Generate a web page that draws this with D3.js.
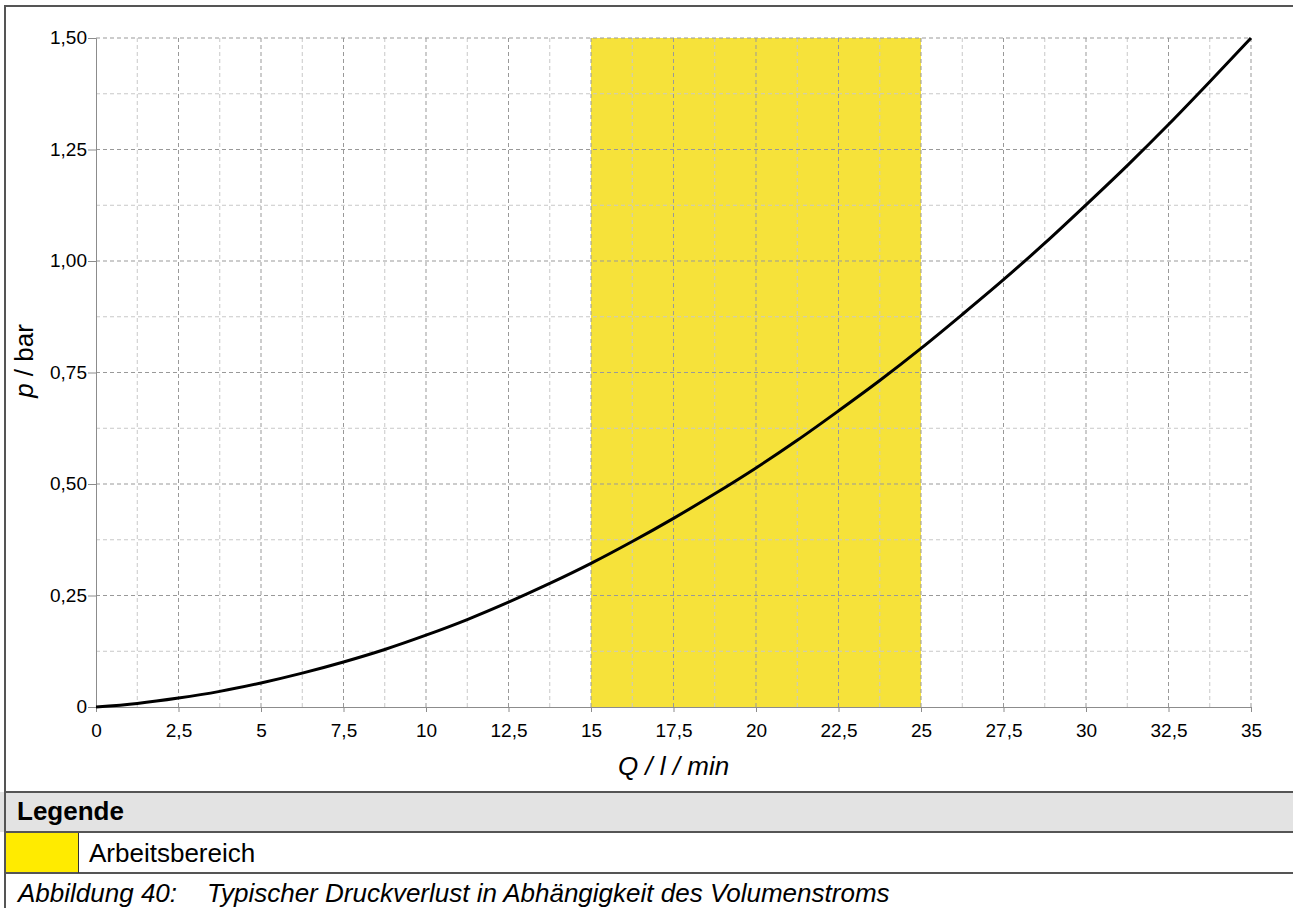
<!DOCTYPE html>
<html>
<head>
<meta charset="utf-8">
<style>
body { margin:0; background:#fff; }
svg text { font-family: "Liberation Sans", Arial, sans-serif; fill:#000; }
</style>
</head>
<body>
<div id="chart"></div>
<script src="https://cdn.jsdelivr.net/npm/d3@7"></script>
<script>

// data
var flowQ = [0,1.25,2.5,3.75,5,6.25,7.5,8.75,10,11.25,12.5,13.75,15,16.25,17.5,18.75,20,
             21.25,22.5,23.75,25,26.25,27.5,28.75,30,31.25,32.5,33.75,35]
var pressure = [0,0.008,0.020,0.035,0.054,0.076,0.101,0.129,0.161,0.196,0.235,0.277,0.322,0.371,
                0.423,0.478,0.536,0.598,0.664,0.732,0.804,0.880,0.958,1.040,1.126,1.214,1.306,1.402,1.50]
var workRange = [15, 25]
var xTicks = [0,2.5,5,7.5,10,12.5,15,17.5,20,22.5,25,27.5,30,32.5,35]
var yTicks = [0,0.25,0.5,0.75,1,1.25,1.5]
var legendLabel = "Arbeitsbereich"
var captionNum = "Abbildung 40:"
var captionText = "Typischer Druckverlust in Abhängigkeit des Volumenstroms"

var W = 1293, H = 908
var margin = {top:38, left:96, right:42, bottom:201}

var svg = d3.select("#chart").append("svg")
    .attr("width", W).attr("height", H)

var x = d3.scaleLinear().domain([0, 35]).range([margin.left, W - margin.right])
var y = d3.scaleLinear().domain([0, 1.5]).range([H - margin.bottom, margin.top])

var fmtX = function(d){ return String(d).replace(".", ",") }
var fmtY = function(d){ return d == 0 ? "0" : d3.format(".2f")(d).replace(".", ",") }

// working range
svg.append("rect")
    .attr("x", x(workRange[0])).attr("y", y(1.5))
    .attr("width", x(workRange[1]) - x(workRange[0]))
    .attr("height", y(0) - y(1.5))
    .style("fill", "#f6e23a")

// grid: minor lines
var minorX = d3.range(1, 28).map(function(i){ return i * 1.25 }).filter(function(d){ return d % 2.5 != 0 })
var minorY = d3.range(1, 12).map(function(i){ return i * 0.125 }).filter(function(d){ return Math.abs(d / 0.25 - Math.round(d / 0.25)) > 0.01 })

svg.append("g").selectAll("line").data(minorX).enter().append("line")
    .attr("x1", d=>x(d)).attr("x2", d=>x(d)).attr("y1", y(0)).attr("y2", y(1.5))
    .style("stroke", "#c8c8c8").style("stroke-dasharray", "4,3")
svg.append("g").selectAll("line").data(minorY).enter().append("line")
    .attr("y1", d=>y(d)).attr("y2", d=>y(d)).attr("x1", x(0)).attr("x2", x(35))
    .style("stroke", "#c8c8c8").style("stroke-dasharray", "4,3")

// grid: major lines
svg.append("g").selectAll("line").data(xTicks.slice(1)).enter().append("line")
    .attr("x1", d=>x(d)).attr("x2", d=>x(d)).attr("y1", y(0)).attr("y2", y(1.5))
    .style("stroke", "#999").style("stroke-dasharray", "4,3")
svg.append("g").selectAll("line").data(yTicks.slice(1)).enter().append("line")
    .attr("y1", d=>y(d)).attr("y2", d=>y(d)).attr("x1", x(0)).attr("x2", x(35))
    .style("stroke", "#999").style("stroke-dasharray", "4,3")

// axes
var xAxis = svg.append("g").attr("transform", "translate(0," + y(0) + ")")
    .call(d3.axisBottom(x).tickValues(xTicks).tickFormat(fmtX).tickSize(5).tickPadding(12))
var yAxis = svg.append("g").attr("transform", "translate(" + x(0) + ",0)")
    .call(d3.axisLeft(y).tickValues(yTicks).tickFormat(fmtY).tickSize(8).tickPadding(1))
;[xAxis, yAxis].forEach(function(a){
    a.select(".domain").style("stroke", "#8c8c8c")
    a.selectAll(".tick line").style("stroke", "#8c8c8c")
    a.selectAll("text").style("font-size", "19px").style("font-family", "Liberation Sans, Arial, sans-serif")
})
xAxis.selectAll(".tick text").attr("dy", "0.7em")
yAxis.selectAll(".tick text").attr("dy", "0.3em")

// curve
var line = d3.line().x((d,i)=>x(flowQ[i])).y(d=>y(d)).curve(d3.curveMonotoneX)
svg.append("path").datum(pressure)
    .attr("d", line)
    .style("fill", "none").style("stroke", "#000").style("stroke-width", 3)

// axis titles
svg.append("text")
    .attr("x", (x(0) + x(35)) / 2).attr("y", 775)
    .attr("text-anchor", "middle")
    .style("font-size", "26px").style("font-style", "italic")
    .text("Q / l / min")

var yt = svg.append("text")
    .attr("transform", "translate(33,361) rotate(-90)")
    .attr("text-anchor", "middle")
    .style("font-size", "26px")
yt.append("tspan").style("font-style", "italic").text("p")
yt.append("tspan").text(" / bar")

// frame + legend table
var border = "#555"
svg.append("rect").attr("x", 0).attr("y", 792).attr("width", W).attr("height", 40).style("fill", "#e3e3e3")
svg.append("rect").attr("x", 6).attr("y", 833).attr("width", 72).attr("height", 40).style("fill", "#ffeb00")

var hLines = [6, 792, 832, 873]
svg.append("g").selectAll("line").data(hLines).enter().append("line")
    .attr("x1", 4).attr("x2", W).attr("y1", d=>d).attr("y2", d=>d)
    .style("stroke", border).style("stroke-width", 2)
svg.append("line").attr("x1", 5).attr("x2", 5).attr("y1", 5).attr("y2", H)
    .style("stroke", border).style("stroke-width", 2)
svg.append("line").attr("x1", 78.5).attr("x2", 78.5).attr("y1", 833).attr("y2", 873)
    .style("stroke", "#333").style("stroke-width", 1)

svg.append("text").attr("x", 17).attr("y", 820)
    .style("font-size", "26px").style("font-weight", "bold").text("Legende")
svg.append("text").attr("x", 89).attr("y", 862)
    .style("font-size", "26px").text(legendLabel)
svg.append("text").attr("x", 18).attr("y", 902)
    .style("font-size", "26px").style("font-style", "italic").text(captionNum)
svg.append("text").attr("x", 207).attr("y", 902)
    .style("font-size", "26px").style("font-style", "italic").text(captionText)

</script>
</body>
</html>
